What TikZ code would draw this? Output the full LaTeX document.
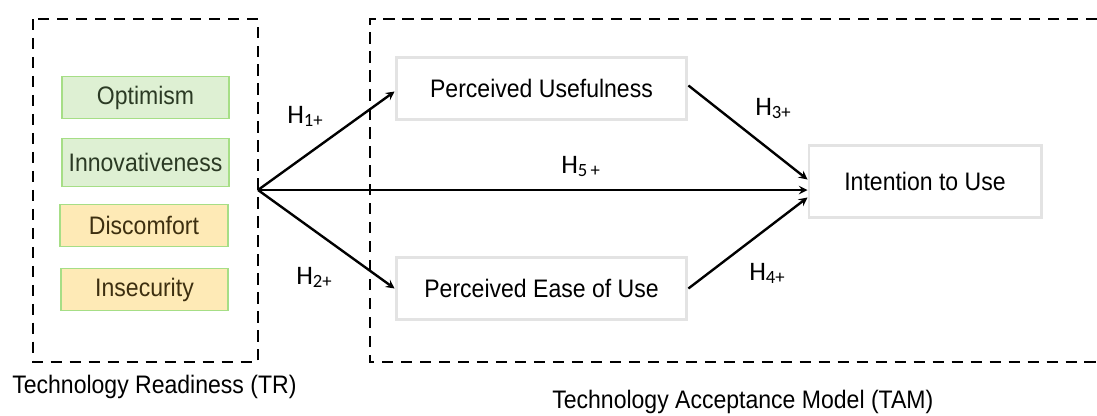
\documentclass[tikz,border=0pt]{standalone}
\usepackage{fontspec}
\setmainfont{Liberation Sans}
\newfontfamily\narrowfont{Liberation Sans}[FakeStretch=0.91]
\newfontfamily\hypfont{Carlito}
\usetikzlibrary{arrows, shapes}
\usetikzlibrary{calc}
\usetikzlibrary{positioning}
\definecolor{posfill}{HTML}{DEF0D3}
\definecolor{negfill}{HTML}{FEEAB6}
\definecolor{dimline}{HTML}{A6DE86}
\definecolor{postext}{HTML}{2B3A24}
\definecolor{negtext}{HTML}{3D2F10}
\definecolor{tamline}{HTML}{E3E3E3}

\begin{document}
\begin{tikzpicture}[x=0.025cm, y=-0.025cm]

\tikzset{
  % readiness dimensions (positive / negative drivers)
  posbox/.style={draw=dimline, fill=posfill, text=postext, line width=1.3pt,
    minimum width=4.18cm, inner sep=0pt, font=\narrowfont\fontsize{18}{20}\selectfont},
  negbox/.style={posbox, fill=negfill, text=negtext},
  % constructs of the acceptance model
  tambox/.style={draw=tamline, fill=white, line width=2.1pt, inner sep=0pt,
    font=\narrowfont\fontsize{18}{20}\selectfont},
  dashbox/.style={dash pattern=on 8pt off 5.5pt, line width=2pt},
  hyp/.style={-stealth, line width=1.7pt},
  hlab/.style={font=\hypfont\fontsize{19}{21}\selectfont, inner sep=0pt, anchor=base west},
  caption/.style={font=\narrowfont\fontsize{18}{20}\selectfont, inner sep=0pt, anchor=base west},
}

\useasboundingbox (0,0) rectangle (1097,415);

% the two frames
\draw [dashbox] (33,19) rectangle (258,362);
\draw [dashbox] (1097,19) -| (370,362) -- (1097,362);

\node [posbox, minimum height=1.05cm] (opt) at (145.5,97.5) {Optimism};
\node [posbox, minimum height=1.2cm] (inn) at (145.5,162.5) {Innovativeness};
\node [negbox, minimum height=1.05cm] (dis) at (144,225.5) {Discomfort};
\node [negbox, minimum height=1.05cm] (ins) at (144.5,289.5) {Insecurity};

\node [tambox, minimum width=7.27cm, minimum height=1.57cm] (pu) at (541.5,88.5) {Perceived Usefulness};
\node [tambox, minimum width=7.27cm, minimum height=1.57cm] (peou) at (541.5,288.5) {Perceived Ease of Use};
\node [tambox, minimum width=5.8cm, minimum height=1.82cm] (itu) at (925,181.5) {Intention to Use};

\coordinate (tr) at (258,190);

\draw [hyp] (tr) -- ($(pu.west)+(0,3)$);
\draw [hyp] (tr) -- (peou.west);
\draw [hyp] (tr) -- (tr -| itu.west);
\draw [hyp] ($(pu.east)+(0,-3)$) -- ($(itu.west)+(0,-2)$);
\draw [hyp] (peou.east) -- ($(itu.west)+(0,16)$);

\node [hlab] (h1) at (287,123) {H\textsubscript{1+}};
\node [hlab] (h2) at (296,284) {H\textsubscript{2+}};
\node [hlab] (h3) at (755,115) {H\textsubscript{3+}};
\node [hlab] (h4) at (749,280) {H\textsubscript{4+}};
\node [hlab] (h5) at (561,173) {H\textsubscript{5\,+}};

\node [caption] (trcap) at (12,393) {Technology Readiness (TR)};
\node [caption] (tamcap) at (552,408) {Technology Acceptance Model (TAM)};

\end{tikzpicture}
\end{document}
